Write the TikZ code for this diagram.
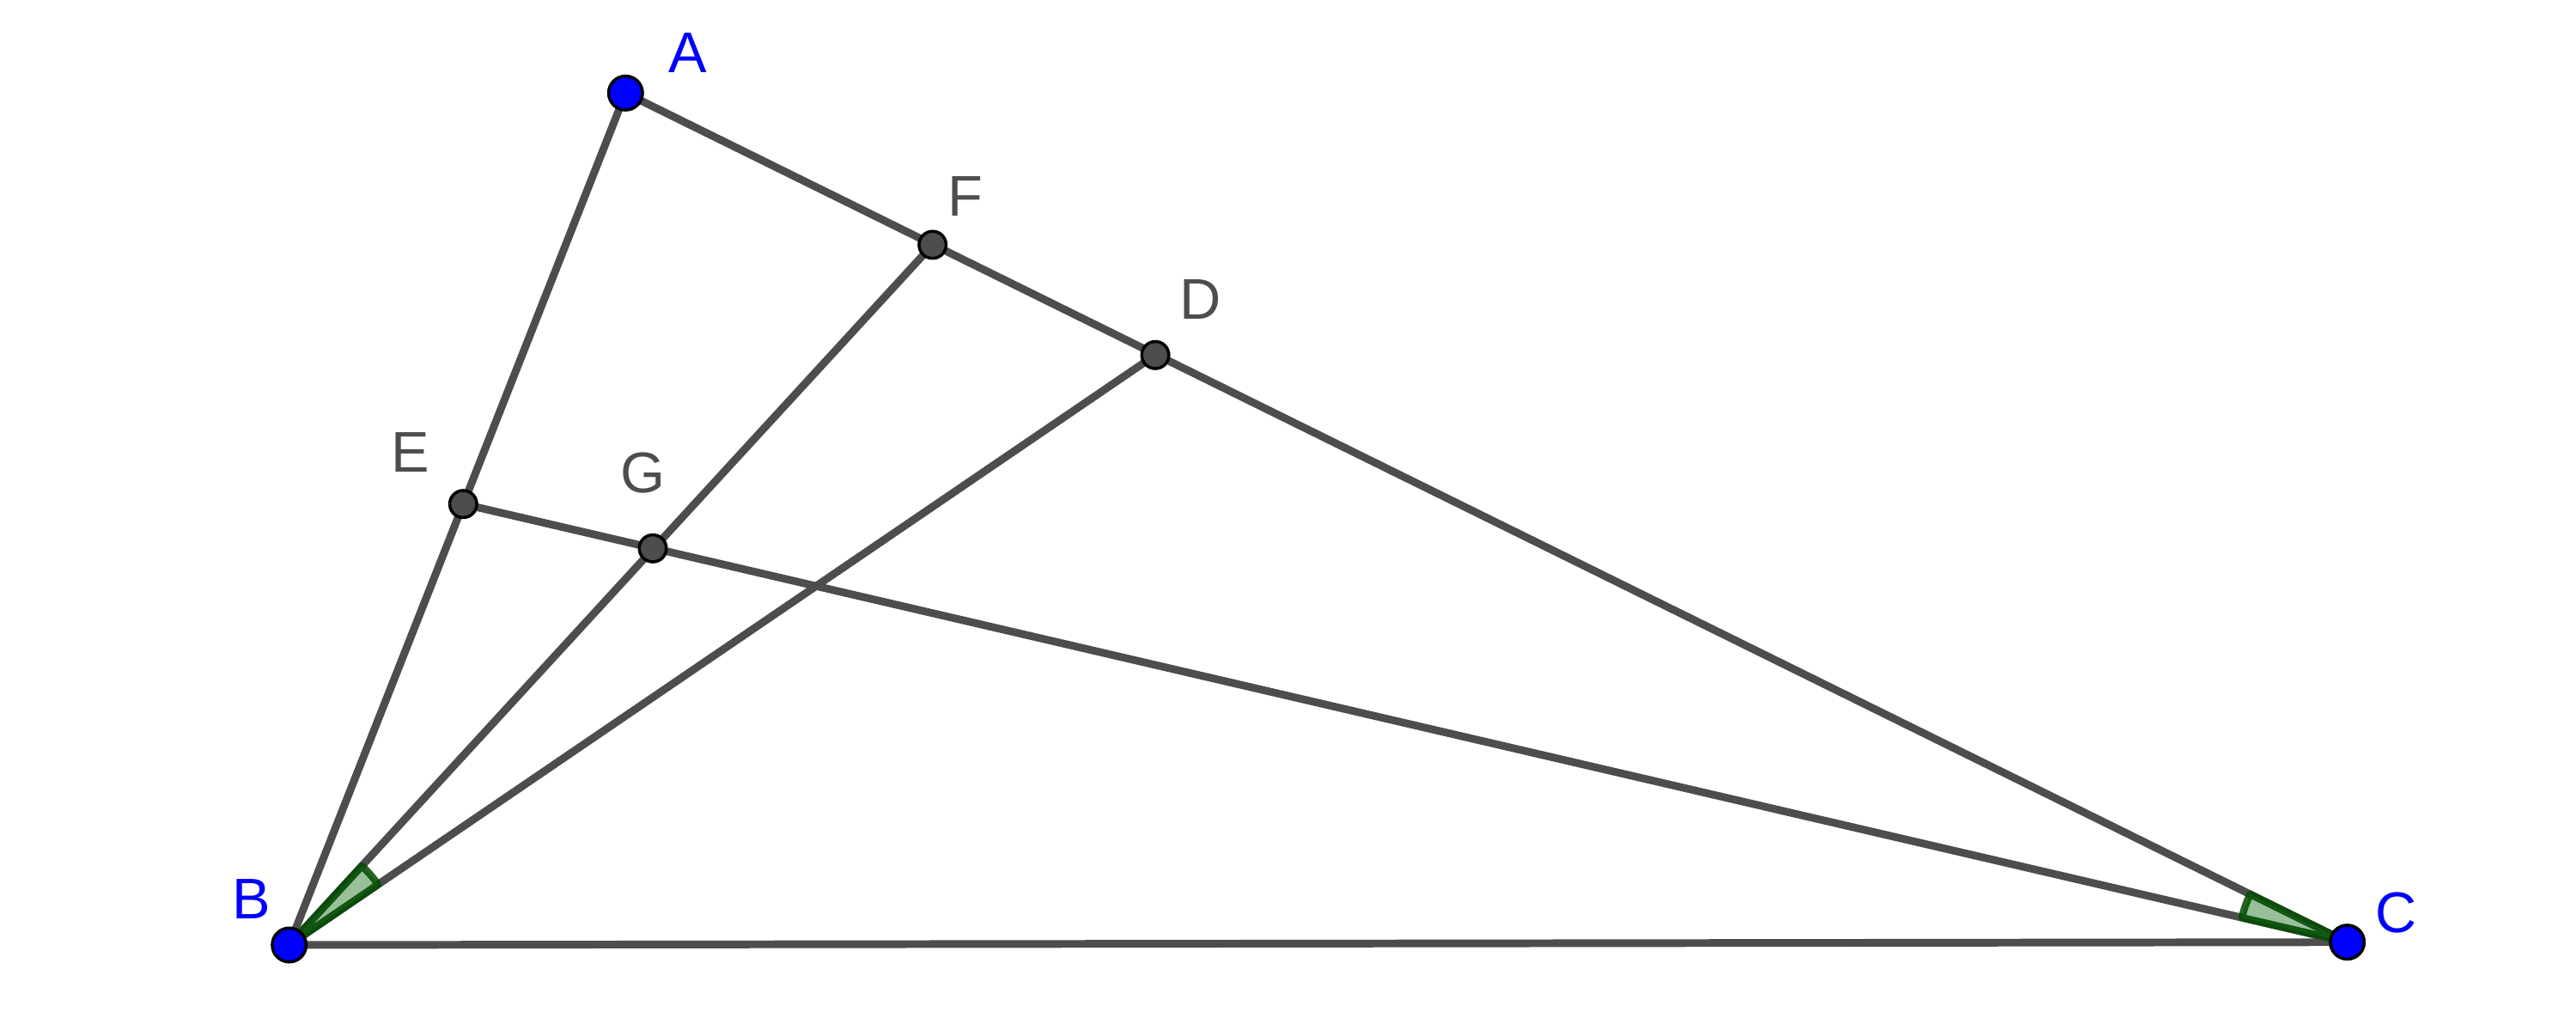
\documentclass[tikz,border=0pt]{standalone}
\usepackage{fontspec}
\setmainfont{Liberation Sans}
\definecolor{segcol}{RGB}{77,77,77}
\definecolor{ptblue}{RGB}{0,0,255}
\definecolor{anglecol}{RGB}{0,100,0}

\begin{document}
\begin{tikzpicture}[line join=round,
  seg/.style={draw=segcol,line width=2.55pt},
  free point/.style={circle,fill=ptblue,draw=black,line width=1pt,inner sep=0pt,minimum size=0.395cm},
  dep point/.style={circle,fill=segcol,draw=black,line width=1pt,inner sep=0pt,minimum size=0.315cm},
  angle mark/.style={fill=anglecol!50!white,fill opacity=0.8,draw=anglecol!75!black,draw opacity=0.85,line width=2.4pt},
  blue label/.style={text=ptblue,inner sep=0pt,font=\fontsize{19}{23}\selectfont},
  gray label/.style={text=segcol,inner sep=0pt,font=\fontsize{19}{23}\selectfont}]

  \useasboundingbox (0,0) rectangle (29.99,11.77);

  \coordinate (A) at (7.283,10.687);
  \coordinate (B) at (3.367,0.77);
  \coordinate (C) at (27.327,0.803);
  \coordinate (D) at (13.45,7.637);
  \coordinate (F) at (10.857,8.92);
  \coordinate (E) at (5.393,5.903);
  \coordinate (G) at (7.60,5.387);

  \draw[seg] (A) -- (B);
  \draw[seg] (A) -- (C);
  \draw[seg] (B) -- (C);
  \draw[seg] (B) -- (F);
  \draw[seg] (B) -- (D);
  \draw[seg] (E) -- (C);

  % equal angles FBD and ACE
  \draw[angle mark] (B) -- ++(34.26:1.25) arc (34.26:47.42:1.25) -- cycle;
  \draw[angle mark] (C) -- ++(153.75:1.26) arc (153.75:166.91:1.26) -- cycle;

  \node[dep point] (pD) at (D) {};
  \node[dep point] (pF) at (F) {};
  \node[dep point] (pE) at (E) {};
  \node[dep point] (pG) at (G) {};
  \node[free point] (pA) at (A) {};
  \node[free point] (pB) at (B) {};
  \node[free point] (pC) at (C) {};

  \node[blue label] (lA) at (8.01,11.15) {A};
  \node[blue label] (lB) at (2.93,1.30) {B};
  \node[blue label] (lC) at (27.90,1.14) {C};
  \node[gray label] (lD) at (13.98,8.28) {D};
  \node[gray label] (lE) at (4.78,6.50) {E};
  \node[gray label] (lF) at (11.24,9.48) {F};
  \node[gray label] (lG) at (7.48,6.26) {G};
\end{tikzpicture}
\end{document}
